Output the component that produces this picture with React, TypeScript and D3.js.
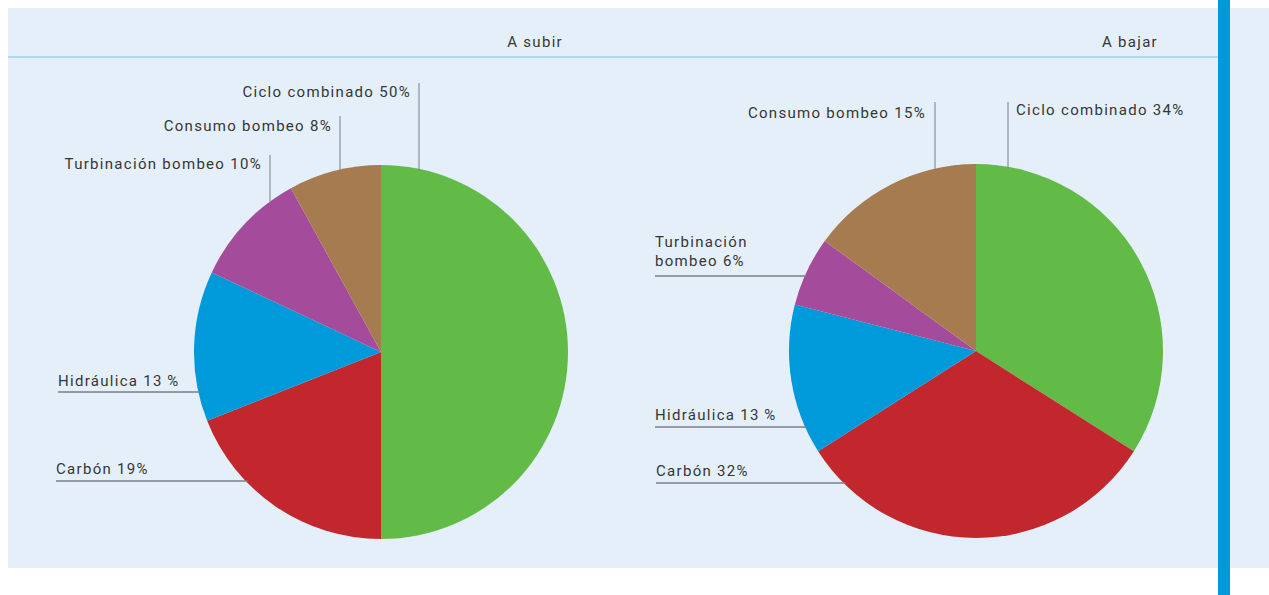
import React from "react";
import * as d3 from "d3";

const categories = ["Ciclo combinado", "Carbón", "Hidráulica", "Turbinación bombeo", "Consumo bombeo"];
const subirValues = [50, 19, 13, 10, 8];
const bajarValues = [34, 32, 13, 6, 15];
const subirLabels = ["Ciclo combinado 50%", "Carbón 19%", "Hidráulica 13\u2009%", "Turbinación bombeo 10%", "Consumo bombeo 8%"];
const bajarLabels = ["Ciclo combinado 34%", "Carbón 32%", "Hidráulica 13\u2009%", "Turbinación\nbombeo 6%", "Consumo bombeo 15%"];
const panelTitles = ["A subir", "A bajar"];
const colors = ["#62bb46", "#c1272d", "#0099d9", "#a54b9b", "#a67b50"];

const W = 1269;
const H = 595;
const R = 187;
const FONT = "Roboto, 'DejaVu Sans', sans-serif";
const FS = 15;
const LS = 1.3;

type LabelLayout =
  | { kind: "v"; lineX: number; lineTop: number; textX: number; textY: number; anchor: "start" | "end" }
  | { kind: "h"; lineY: number; lineX0: number; textX: number; textY: number };

const subirLayout: LabelLayout[] = [
  { kind: "v", lineX: 419, lineTop: 83, textX: 411, textY: 97, anchor: "end" },
  { kind: "h", lineY: 481, lineX0: 56, textX: 56, textY: 474 },
  { kind: "h", lineY: 392, lineX0: 58, textX: 58, textY: 386 },
  { kind: "v", lineX: 270, lineTop: 155, textX: 262, textY: 169, anchor: "end" },
  { kind: "v", lineX: 340, lineTop: 116, textX: 332, textY: 131, anchor: "end" },
];
const bajarLayout: LabelLayout[] = [
  { kind: "v", lineX: 1008, lineTop: 102, textX: 1016, textY: 115, anchor: "start" },
  { kind: "h", lineY: 483, lineX0: 656, textX: 656, textY: 476 },
  { kind: "h", lineY: 427, lineX0: 655, textX: 655, textY: 420 },
  { kind: "h", lineY: 276, lineX0: 655, textX: 655, textY: 247 },
  { kind: "v", lineX: 935, lineTop: 102, textX: 926, textY: 118, anchor: "end" },
];

const panels = [
  { cx: 381, cy: 352, values: subirValues, labels: subirLabels, layout: subirLayout, title: panelTitles[0], titleX: 563 },
  { cx: 976, cy: 351, values: bajarValues, labels: bajarLabels, layout: bajarLayout, title: panelTitles[1], titleX: 1158 },
];

function Pie({ p }: { p: (typeof panels)[number] }) {
  const pie = d3.pie<number>().sort(null).value((d) => d);
  const arcs = pie(p.values);
  const arc = d3.arc<d3.PieArcDatum<number>>().innerRadius(0).outerRadius(R);
  const textProps = { fontFamily: FONT, fontSize: FS, fill: "#363636", letterSpacing: LS };
  return (
    <g>
      <g transform={`translate(${p.cx},${p.cy})`}>
        {arcs.map((a, i) => (
          <path key={categories[i]} d={arc(a) || ""} fill={colors[i]} />
        ))}
      </g>
      {p.layout.map((l, i) => {
        const lines = p.labels[i].split("\n");
        if (l.kind === "v") {
          const dx = l.lineX - p.cx;
          const yEdge = p.cy - Math.sqrt(R * R - dx * dx);
          return (
            <g key={i}>
              <line x1={l.lineX} x2={l.lineX} y1={l.lineTop} y2={yEdge + 2} stroke="#7a7f86" strokeWidth={1} />
              <text x={l.textX} y={l.textY} textAnchor={l.anchor} {...textProps}>
                {lines[0]}
              </text>
            </g>
          );
        }
        const dy = l.lineY - p.cy;
        const xEdge = p.cx - Math.sqrt(R * R - dy * dy);
        return (
          <g key={i}>
            <line x1={l.lineX0} x2={xEdge + 2} y1={l.lineY} y2={l.lineY} stroke="#7a7f86" strokeWidth={1.5} />
            <text x={l.textX} y={l.textY} {...textProps}>
              {lines.map((t, k) => (
                <tspan key={k} x={l.textX} dy={k === 0 ? 0 : 19}>
                  {t}
                </tspan>
              ))}
            </text>
          </g>
        );
      })}
      <text x={p.titleX} y={47} textAnchor="end" {...textProps}>
        {p.title}
      </text>
    </g>
  );
}

export default function App() {
  return (
    <svg width={W} height={H} style={{ position: "absolute", left: 0, top: 0 }}>
      <rect x={0} y={0} width={W} height={H} fill="#ffffff" />
      <rect x={8} y={8} width={W - 8} height={560} fill="#e4eff9" />
      <line x1={8} x2={1218} y1={57} y2={57} stroke="#9fd0ea" strokeWidth={1.5} />
      {panels.map((p, i) => (
        <Pie key={i} p={p} />
      ))}
      <rect x={1218} y={0} width={12} height={H} fill="#0099d9" />
    </svg>
  );
}
